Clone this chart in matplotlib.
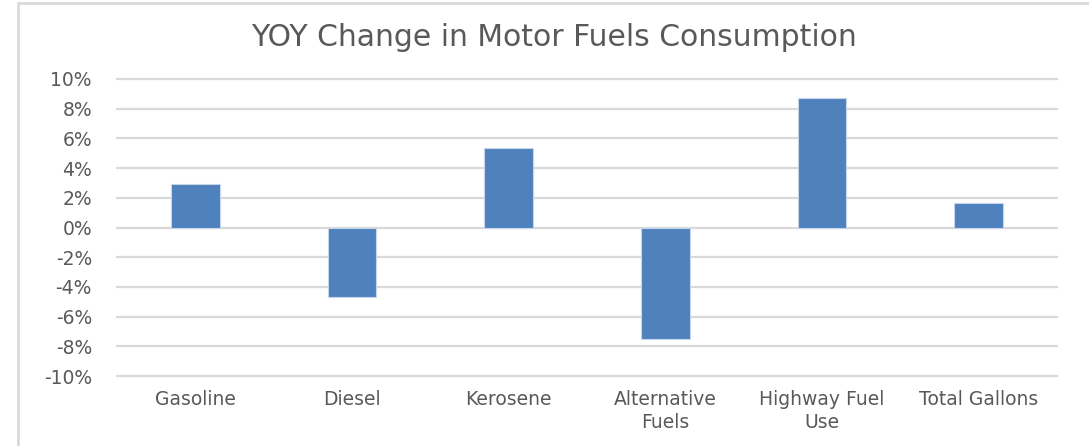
import matplotlib.pyplot as plt
from matplotlib.patches import Rectangle
from matplotlib.ticker import FuncFormatter

# Data (percent change)
categories = ['Gasoline', 'Diesel', 'Kerosene', 'Alternative\nFuels', 'Highway Fuel\nUse', 'Total Gallons']
yoy_change = [2.9, -4.7, 5.35, -7.5, 8.75, 1.63]
y_ticks = [-10, -8, -6, -4, -2, 0, 2, 4, 6, 8, 10]

plt.rcParams['font.family'] = ['DejaVu Sans']

W, H = 1089, 446
fig = plt.figure(figsize=(W / 100, H / 100), dpi=100)

# plot area in pixels: x 117..1057, y 79..376
ax = fig.add_axes([117 / W, 1 - 376 / H, 940 / W, 297 / H])

x = range(len(categories))
ax.bar(x, yoy_change, width=0.31, color='#4F81BD', edgecolor='#C5D5EA', linewidth=0.8, zorder=3)

ax.set_xlim(-0.5, len(categories) - 0.5)
ax.set_ylim(-10, 10)
ax.set_yticks(y_ticks)
ax.yaxis.set_major_formatter(FuncFormatter(lambda v, p: f'{v:.0f}%'))
ax.set_xticks(list(x))
ax.set_xticklabels(categories, linespacing=1.25)
ax.tick_params(axis='both', length=0, colors='#595959', labelsize=13.5)
ax.tick_params(axis='x', pad=10)
ax.tick_params(axis='y', pad=18)

ax.grid(axis='y', color='#D9D9D9', linewidth=1.6, zorder=0)
for gl in ax.get_ygridlines():
    gl.set_clip_on(False)
for s in ax.spines.values():
    s.set_visible(False)

# outer chart border
fig.patches.append(Rectangle((17.5 / W, -0.1), 1.2, 1 - 3.5 / H + 0.1, transform=fig.transFigure,
                             fill=False, edgecolor='#D9D9D9', linewidth=2))

fig.text(554 / W, 1 - 37 / H, 'YOY Change in Motor Fuels Consumption', ha='center', va='center',
         fontsize=21.5, color='#595959')

fig.savefig('out.png', dpi=100)
